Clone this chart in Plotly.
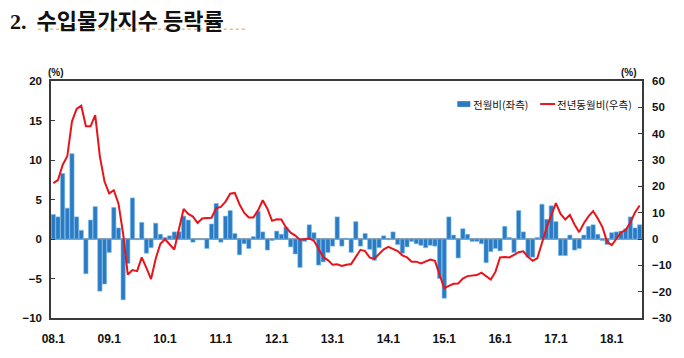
import plotly.graph_objects as go

# Categories: monthly 2008.1 ... 2018.7
months = [f"{y:02d}.{m}" for y in range(8, 19) for m in range(1, 13)][:127]
tick_labels = ["08.1", "09.1", "10.1", "11.1", "12.1", "13.1", "14.1", "15.1", "16.1", "17.1", "18.1"]

# 전월비 (left axis, %)
mom = [3.1, 2.8, 8.3, 3.9, 10.8, 2.8, 1.1, -4.4, 2.4, 4.1, -6.6, -5.7,
       -1.7, 4.0, 1.4, -7.7, -3.1, 5.2, -0.1, 2.1, -1.8, -1.1, 2.0, 0.6,
       0.2, 0.4, 0.9, 0.9, 2.9, 2.4, -0.4, -0.1, -0.1, -1.2, 1.9, 4.5,
       -0.4, 2.9, 3.6, 0.7, -2.0, -0.6, -1.2, 0.3, 3.5, 0.9, -1.4, -0.2,
       1.0, 0.6, 1.5, -1.0, -1.9, -3.6, -0.3, 1.8, 0.8, -3.3, -2.9, -1.7,
       -0.9, 2.8, -0.9, 0.1, -1.7, 2.2, -0.9, 0.7, -1.3, -2.7, -1.1, 0.4,
       -0.1, 0.9, -0.7, -1.8, -1.0, -0.3, -0.6, -0.8, -1.1, -0.8, -0.9, -5.0,
       -7.5, 2.8, 0.5, -2.4, 1.3, 0.6, -0.3, -0.3, -0.6, -3.0, -1.6, -1.2,
       -1.5, 1.6, 0.2, -1.7, 3.6, 0.9, -2.3, -2.3, 0.2, 4.4, 2.5, 4.2,
       2.2, -2.1, -2.1, 0.5, -1.4, -1.2, 0.5, 1.6, 1.8, 0.6, -0.2, -0.7,
       0.8, 0.9, 1.0, 1.3, 2.8, 1.4, 1.8]

# 전년동월비 (right axis, %)
yoy = [21.2, 22.4, 28.1, 31.4, 44.6, 49.4, 50.6, 42.8, 42.8, 47.0, 31.4, 21.8,
       17.3, 18.5, 13.4, 2.0, -13.5, -11.8, -12.2, -7.0, -11.0, -15.2, -7.5, -1.8,
       -0.1, -2.0, -4.0, 3.8, 11.4, 9.5, 8.5, 6.1, 7.8, 8.0, 8.1, 11.7,
       12.2, 14.2, 17.2, 17.5, 13.2, 10.0, 8.2, 8.2, 10.9, 14.7, 11.5, 6.9,
       7.5, 7.4, 4.4, 2.4, 1.3, -0.3, -0.1, 0.2, -0.7, -3.8, -6.9, -8.0,
       -9.8, -9.6, -10.2, -9.8, -9.5, -6.8, -4.1, -4.6, -7.1, -7.5, -5.6, -3.9,
       -3.0, -3.7, -4.6, -6.2, -7.0, -8.6, -8.6, -9.3, -8.5, -7.8, -8.3, -13.3,
       -18.7, -17.8, -17.0, -16.9, -15.0, -14.1, -13.9, -13.7, -12.8, -14.1, -15.4, -12.5,
       -7.0, -6.8, -7.0, -6.0, -5.0, -4.7, -6.8, -8.3, -7.3, -1.5, 4.3, 9.0,
       13.6, 9.5, 7.4, 9.1, 5.5, 2.6, 6.0, 8.6, 10.6, 7.8, 4.5, -1.1,
       -2.3, 0.1, 2.5, 3.4, 6.3, 10.1, 12.7]

series_names = ["전월비(좌측)", "전년동월비(우측)"]
BAR_COLOR = "#2b7bc3"
LINE_COLOR = "#e8141c"

W, H = 684, 358
L, R, T, B = 51, 41, 81, 30
PW, PH = W - L - R, H - T - B


def px(x):
    return (x - L) / PW


def py(y):
    return (H - B - y) / PH


AX = "#3a3a3a"
TICKFONT = dict(family="Liberation Sans, Arial, sans-serif", size=11.5, color="#111", weight="bold")

fig = go.Figure()
fig.add_bar(x=months, y=mom, name=series_names[0], yaxis="y",
            marker=dict(color=BAR_COLOR, line=dict(color="#7cbcec", width=0.6)))
fig.add_scatter(x=months, y=yoy, name=series_names[1], yaxis="y2", mode="lines",
                line=dict(color=LINE_COLOR, width=2))

fig.update_layout(
    width=W, height=H,
    margin=dict(l=L, r=R, t=T, b=B),
    paper_bgcolor="white", plot_bgcolor="white",
    bargap=0.08,
    showlegend=False,
    xaxis=dict(type="category", tickvals=tick_labels, ticktext=tick_labels, tickangle=0,
               showline=True, linecolor=AX, linewidth=1.5, mirror=True, ticks="",
               showgrid=False, zeroline=False, tickfont=dict(TICKFONT, size=12),
               ticklabelstandoff=9),
    yaxis=dict(range=[-10, 20], dtick=5, ticks="inside", ticklen=4, tickcolor=AX,
               showline=True, linecolor=AX, linewidth=1.5, showgrid=False,
               zeroline=True, zerolinecolor="#8a97a5", zerolinewidth=1.5,
               tickfont=TICKFONT, ticklabelstandoff=5),
    yaxis2=dict(range=[-30, 60], dtick=10, overlaying="y", side="right",
                ticks="inside", ticklen=4, tickcolor=AX,
                showline=True, linecolor=AX, linewidth=1.5, showgrid=False,
                zeroline=False, tickfont=TICKFONT, ticklabelstandoff=6),
)

# unit labels
for xpos in (46, 620):
    fig.add_annotation(xref="paper", yref="paper", x=px(xpos), y=py(72),
                       text="(%)", showarrow=False, xanchor="left", yanchor="middle",
                       font=dict(family="Liberation Sans", size=10, color="#111", weight="bold"))

# Legend (drawn manually to match the compact original)
fig.add_shape(type="rect", xref="paper", yref="paper",
              x0=px(458), x1=px(471), y0=py(102), y1=py(108),
              fillcolor=BAR_COLOR, line=dict(width=0))
fig.add_annotation(xref="paper", yref="paper", x=px(472), y=py(105),
                   text=series_names[0], showarrow=False, xanchor="left", yanchor="middle",
                   font=dict(family="Noto Sans CJK KR", size=10.5, color="#111"))
fig.add_shape(type="line", xref="paper", yref="paper",
              x0=px(541), x1=px(556), y0=py(105), y1=py(105),
              line=dict(color=LINE_COLOR, width=2))
fig.add_annotation(xref="paper", yref="paper", x=px(556), y=py(105),
                   text=series_names[1], showarrow=False, xanchor="left", yanchor="middle",
                   font=dict(family="Noto Sans CJK KR", size=10.5, color="#111"))

# Title
fig.add_annotation(xref="paper", yref="paper", x=px(8), y=py(16),
                   text="<span style='font-family:Liberation Serif'>2.</span>&nbsp; 수입물가지수 등락률",
                   showarrow=False, xanchor="left", yanchor="middle",
                   font=dict(family="Noto Sans CJK KR", size=22, color="#111", weight="bold"))

# spell-check style dotted underline under the title words
for x0, x1 in [(38, 173), (182, 248)]:
    fig.add_shape(type="line", xref="paper", yref="paper",
                  x0=px(x0), x1=px(x1), y0=py(27), y1=py(27),
                  line=dict(color="#e39a4a", width=1, dash="dot"))

fig.write_html("out.html", config={"displayModeBar": False},
               post_script="document.body.style.margin='0';")
